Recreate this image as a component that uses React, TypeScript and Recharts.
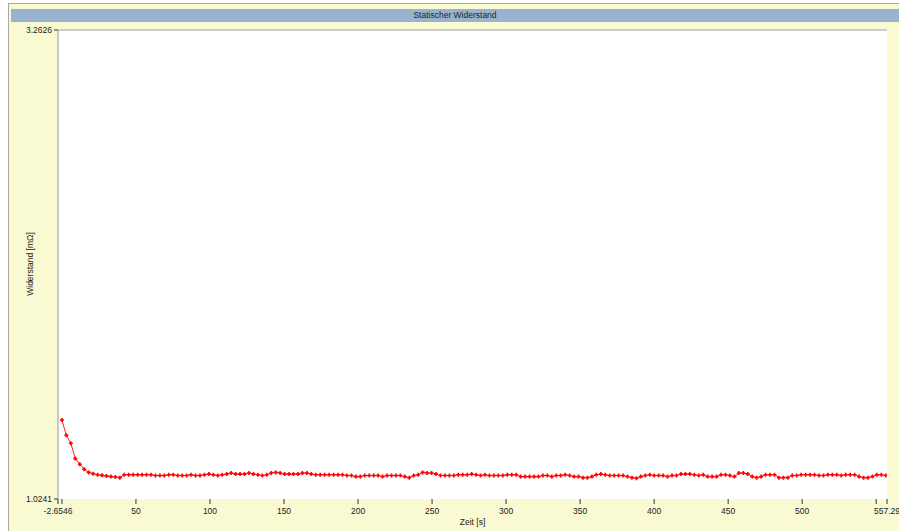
import { LineChart, Line, XAxis, YAxis, CartesianGrid, ReferenceLine } from 'recharts';

// Statischer Widerstand, Messwerte ca. alle 3 s
const sampleStart = 0;
const samplePeriod = 3.008;

const resistance = [
  1.401, 1.328, 1.290, 1.217, 1.190, 1.166, 1.151, 1.145, 1.140, 1.137,
  1.134, 1.131, 1.129, 1.126, 1.140, 1.140, 1.140, 1.140, 1.140, 1.140,
  1.140, 1.136, 1.136, 1.136, 1.140, 1.140, 1.136, 1.136, 1.136, 1.140,
  1.136, 1.136, 1.140, 1.143, 1.140, 1.136, 1.140, 1.143, 1.148, 1.143,
  1.143, 1.143, 1.148, 1.143, 1.140, 1.136, 1.140, 1.148, 1.151, 1.148,
  1.143, 1.143, 1.143, 1.143, 1.148, 1.148, 1.143, 1.140, 1.140, 1.140,
  1.140, 1.140, 1.140, 1.140, 1.136, 1.136, 1.131, 1.131, 1.136, 1.136,
  1.136, 1.136, 1.131, 1.136, 1.136, 1.136, 1.136, 1.131, 1.126, 1.136,
  1.140, 1.151, 1.148, 1.148, 1.143, 1.136, 1.136, 1.136, 1.136, 1.140,
  1.140, 1.140, 1.143, 1.140, 1.136, 1.140, 1.136, 1.136, 1.136, 1.136,
  1.140, 1.140, 1.140, 1.131, 1.131, 1.131, 1.131, 1.131, 1.136, 1.136,
  1.131, 1.136, 1.136, 1.140, 1.136, 1.131, 1.131, 1.126, 1.126, 1.131,
  1.140, 1.143, 1.140, 1.136, 1.136, 1.136, 1.136, 1.131, 1.126, 1.123,
  1.131, 1.136, 1.140, 1.136, 1.136, 1.136, 1.131, 1.136, 1.136, 1.143,
  1.143, 1.143, 1.140, 1.136, 1.140, 1.131, 1.131, 1.131, 1.140, 1.140,
  1.136, 1.131, 1.148, 1.148, 1.143, 1.131, 1.126, 1.131, 1.140, 1.140,
  1.140, 1.126, 1.126, 1.126, 1.136, 1.136, 1.140, 1.140, 1.140, 1.140,
  1.136, 1.136, 1.140, 1.140, 1.140, 1.136, 1.140, 1.140, 1.140, 1.131,
  1.126, 1.126, 1.131, 1.140, 1.140, 1.136,
];

const xDomain = [-2.6546, 557.29];
const yDomain = [1.0241, 3.2626];
const xTicks = [-2.6546, 0, 50, 100, 150, 200, 250, 300, 350, 400, 450, 500, 550, 557.29];
const hiddenXLabels = [0, 550];
const yTicks = [1.0241, 3.2626];

const data = resistance.map((r, i) => ({ t: sampleStart + i * samplePeriod, r }));

const font = '"Liberation Sans", Arial, sans-serif';
const bg = '#F9F9D2';

const CrossDot = (props: any) => {
  const { cx, cy, index } = props;
  if (cx == null || cy == null) return <g key={index} />;
  return (
    <path
      key={index}
      d={`M${cx - 2},${cy}h4M${cx},${cy - 2}v4`}
      stroke="#FF0000"
      strokeWidth={1.6}
      fill="none"
    />
  );
};

const XTick = (props: any) => {
  const { x, y, payload } = props;
  if (hiddenXLabels.includes(payload.value)) return <g />;
  return (
    <text x={x} y={y + 8} textAnchor="middle" fontSize={8.5} fontFamily={font} fill="#222">
      {String(payload.value)}
    </text>
  );
};

const YTitle = () => (
  <text
    x={33}
    y={264}
    transform="rotate(-90, 33, 264)"
    textAnchor="middle"
    fontSize={8.5}
    fontFamily={font}
    fill="#222"
  >
    Widerstand [mΩ]
  </text>
);

const App = () => {
  return (
    <div style={{ position: 'absolute', left: 0, top: 0, width: 899, height: 531, overflow: 'hidden', background: '#fff' }}>
      <div
        style={{
          position: 'absolute', left: 8, top: 3, width: 891, height: 528,
          background: bg, borderTop: '1px solid #A8A8A8', borderLeft: '1px solid #A8A8A8', boxSizing: 'border-box',
        }}
      />
      <div
        style={{
          position: 'absolute', left: 11, top: 9, width: 888, height: 13, background: '#97B3CF',
          textAlign: 'center', fontFamily: font, fontSize: 8.5, lineHeight: '13px', color: '#222',
        }}
      >
        Statischer Widerstand
      </div>
      <div style={{ position: 'absolute', left: 0, top: 0 }}>
        <LineChart width={899} height={531} data={data} margin={{ top: 30, right: 12, bottom: 0, left: 0 }}>
          <CartesianGrid fill="#fff" stroke="none" horizontal={false} vertical={false} />
          <ReferenceLine y={yDomain[1]} stroke="#BDBDBD" strokeWidth={1.5} ifOverflow="extendDomain" />
          <XAxis
            dataKey="t"
            type="number"
            domain={xDomain}
            ticks={xTicks}
            interval={0}
            allowDataOverflow
            height={32}
            axisLine={false}
            tickLine={{ stroke: '#333' }}
            tickSize={5}
            tick={<XTick />}
            label={{ value: 'Zeit [s]', position: 'insideBottom', offset: 6, fontSize: 8.5, fontFamily: font, fill: '#222' }}
          />
          <YAxis
            type="number"
            domain={yDomain}
            ticks={yTicks}
            interval={0}
            allowDataOverflow
            width={58}
            axisLine={{ stroke: '#9A9A9A' }}
            tickLine={{ stroke: '#333' }}
            tickSize={4}
            tick={{ fontSize: 8.5, fontFamily: font, fill: '#222' }}
            tickFormatter={(v: number) => String(v)}
            label={<YTitle />}
          />
          <Line
            type="linear"
            dataKey="r"
            stroke="#FF2020"
            strokeWidth={1}
            dot={<CrossDot />}
            activeDot={false}
            isAnimationActive={false}
          />
        </LineChart>
      </div>
    </div>
  );
};

export default App;
